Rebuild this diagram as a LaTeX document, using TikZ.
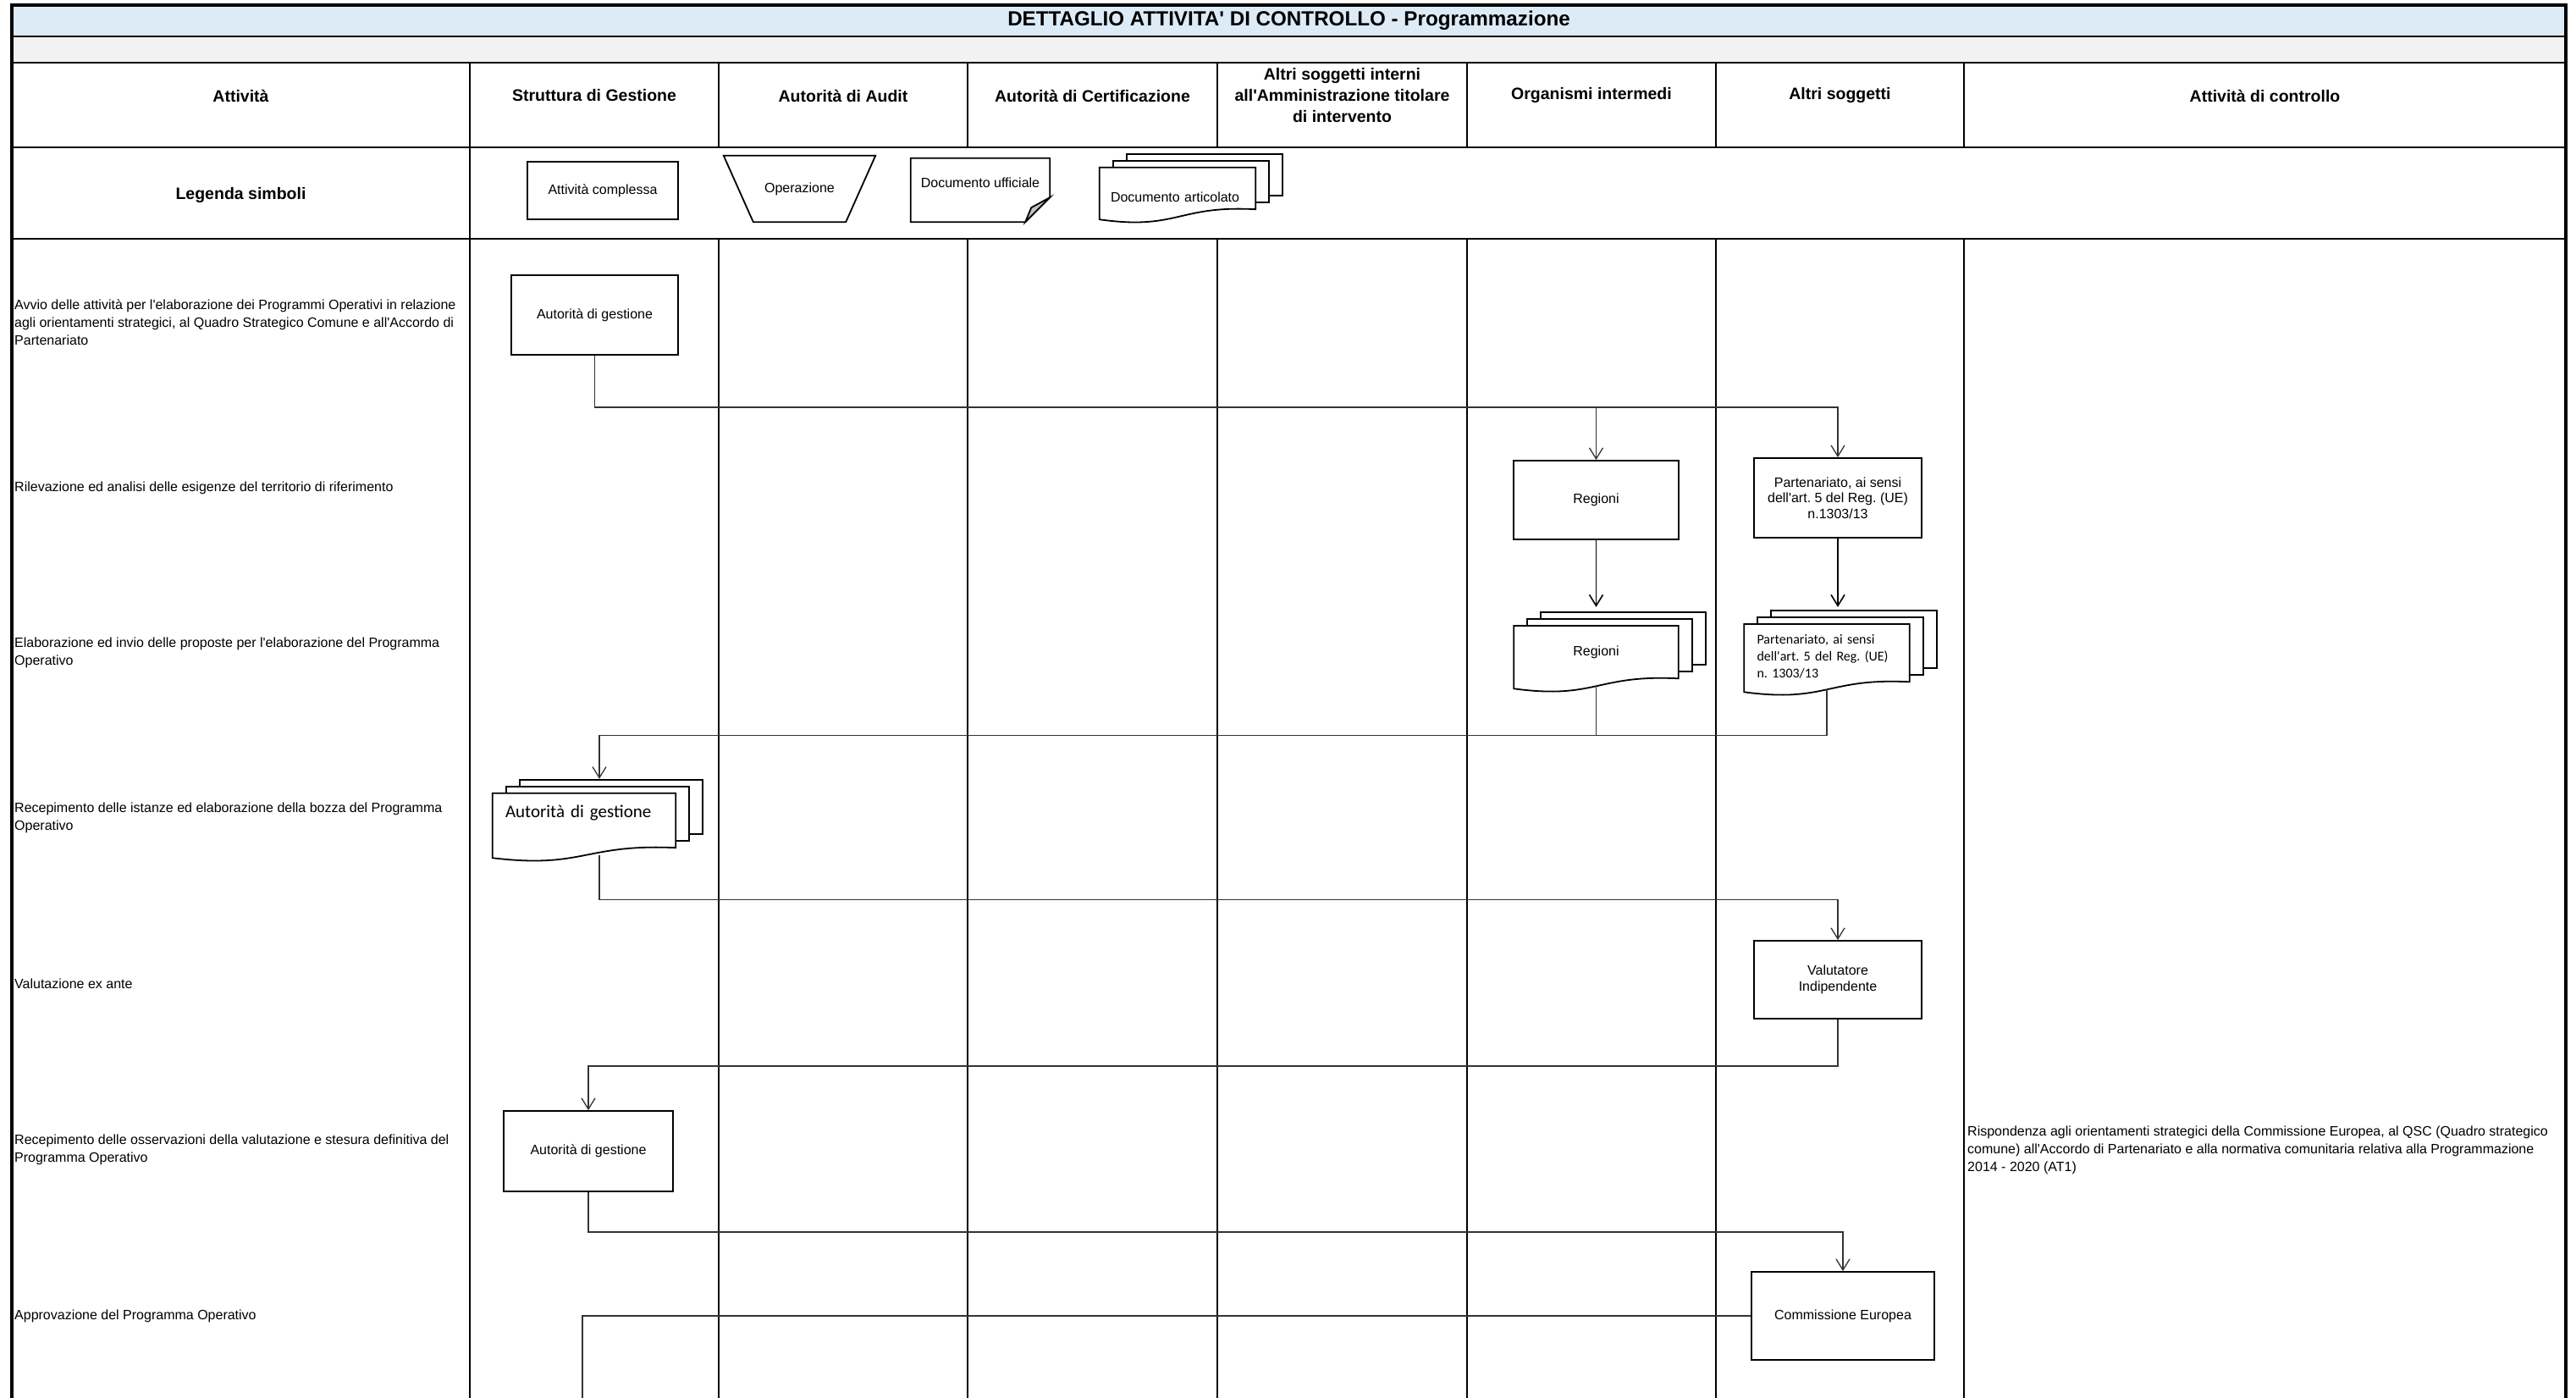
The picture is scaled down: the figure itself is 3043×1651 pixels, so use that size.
\documentclass[tikz,border=0pt]{standalone}
\usepackage{fontspec}
\setmainfont{Liberation Sans}[Ligatures=TeXOff]
\newfontfamily\calibri{Carlito}[Ligatures=TeXOff]
\usepackage{tikz}
\usetikzlibrary{positioning,calc,arrows.meta,backgrounds}
\frenchspacing

\definecolor{titleblue}{HTML}{DDEBF7}
\definecolor{bandgray}{HTML}{F2F2F2}
\definecolor{foldgray}{HTML}{C4C4C4}

\tikzset{
  outerline/.style={line width=3.5pt},
  rowline/.style={line width=2.5pt},
  laneline/.style={line width=2pt},
  shapeline/.style={line width=1.8pt},
  titletext/.style={font=\bfseries\fontsize{24.2}{28}\selectfont},
  lane/.style={font=\bfseries\fontsize{19.5}{25}\selectfont, align=center},
  attivita/.style={anchor=west, inner sep=0pt, align=left, font=\fontsize{16}{21}\selectfont},
  box/.style={draw, shapeline, minimum width=198pt, minimum height=94pt, inner sep=2pt, align=center, font=\fontsize{16}{18.5}\selectfont},
  docnode/.style={inner sep=0pt, align=center, font=\fontsize{16}{20}\selectfont},
  flow/.style={draw=black!80, line width=1.3pt, -{Straight Barb[length=13pt,width=16pt]}},
  link/.style={draw=black!80, line width=1.3pt},
}

% stacked documents behind a named node, wavy lower edge
\newcommand{\stackdoc}[1]{%
  \begin{scope}[on background layer]
    \draw[shapeline, fill=white] ([shift={(32,-16)}]#1.north west) rectangle ([shift={(32,-25)}]#1.south east);
    \draw[shapeline, fill=white] ([shift={(16,-8)}]#1.north west) rectangle ([shift={(16,-17)}]#1.south east);
    \draw[shapeline, fill=white] (#1.north west) -- (#1.north east) -- ([shift={(0,-9)}]#1.south east)
      .. controls ([shift={(0,-14)}]#1.south) and ([shift={(0,16)}]#1.south) .. ([shift={(0,3)}]#1.south west) -- cycle;
  \end{scope}}

\begin{document}
\begin{tikzpicture}[x=1pt, y=-1pt]
\useasboundingbox (0,0) rectangle (3043,1651);

\fill[titleblue] (14,6) rectangle (3031,43);
\fill[bandgray] (14,43) rectangle (3031,74);
\draw[rowline] (14,43) -- (3031,43) (14,74) -- (3031,74) (14,174) -- (3031,174) (14,282) -- (3031,282);
\draw[laneline] (555,74) -- (555,1651)
  (849,74) -- (849,174) (1143,74) -- (1143,174) (1438,74) -- (1438,174)
  (1733,74) -- (1733,174) (2027,74) -- (2027,174) (2320,74) -- (2320,174)
  (849,282) -- (849,1651) (1143,282) -- (1143,1651) (1438,282) -- (1438,1651)
  (1733,282) -- (1733,1651) (2027,282) -- (2027,1651) (2320,282) -- (2320,1651);
\draw[outerline] (14,1651) -- (14,6) -- (3031,6) -- (3031,1651);

\node [titletext] (title) at (1522.5,24.5) {DETTAGLIO ATTIVITA' DI CONTROLLO - Programmazione};

\node [lane] (hatt) at (284.5,113) {Attività};
\node [lane] (hsg) at (702,113) {Struttura di Gestione};
\node [lane] (haa) at (996,113) {Autorità di Audit};
\node [lane] (hac) at (1290.5,113) {Autorità di Certificazione};
\node [lane] (has) at (1585.5,113) {Altri soggetti interni\\all'Amministrazione titolare\\di intervento};
\node [lane] (hoi) at (1880,113) {Organismi intermedi};
\node [lane] (hao) at (2173.5,113) {Altri soggetti};
\node [lane] (hcon) at (2675.5,113) {Attività di controllo};

% legenda
\node [lane] (legenda) at (284.5,230) {Legenda simboli};
\node [box, minimum width=178pt, minimum height=68pt] (leg1) at (712,225) {Attività complessa};
\node [docnode, minimum width=179pt, minimum height=78pt] (leg2) at (944.5,223) {Operazione};
\draw[shapeline] (leg2.north west) -- (leg2.north east) -- ([shift={(-35,0)}]leg2.south east)
  -- ([shift={(35,0)}]leg2.south west) -- cycle;
\node [docnode, minimum width=164pt, minimum height=75pt, text height=12pt, text depth=18pt] (leg3) at (1158,224.5) {Documento ufficiale};
\draw[shapeline] (leg3.north west) -- (leg3.north east) -- ([shift={(0,-29)}]leg3.south east)
  -- ([shift={(-29,0)}]leg3.south east) -- (leg3.south west) -- cycle;
\filldraw[shapeline, fill=foldgray] ([shift={(0,-29)}]leg3.south east) -- ([shift={(-22,-17)}]leg3.south east)
  -- ([shift={(-29,0)}]leg3.south east) -- cycle;
\node [docnode, align=left, text width=158pt, minimum width=184pt, minimum height=58pt, text height=24pt, text depth=2pt] (leg4) at (1391,227) {Documento articolato};
\stackdoc{leg4}

% attivita
\node [attivita] (a1) at (17,381) {Avvio delle attività per l'elaborazione dei Programmi Operativi in relazione\\agli orientamenti strategici, al Quadro Strategico Comune e all'Accordo di\\Partenariato};
\node [attivita] (a2) at (17,576) {Rilevazione ed analisi delle esigenze del territorio di riferimento};
\node [attivita] (a3) at (17,771) {Elaborazione ed invio delle proposte per l'elaborazione del Programma\\Operativo};
\node [attivita] (a4) at (17,966) {Recepimento delle istanze ed elaborazione della bozza del Programma\\Operativo};
\node [attivita] (a5) at (17,1162) {Valutazione ex ante};
\node [attivita] (a6) at (17,1358) {Recepimento delle osservazioni della valutazione e stesura definitiva del\\Programma Operativo};
\node [attivita] (a7) at (17,1554) {Approvazione del Programma Operativo};
\node [attivita] (ctrl) at (2324,1358) {Rispondenza agli orientamenti strategici della Commissione Europea, al QSC (Quadro strategico\\comune) all'Accordo di Partenariato e alla normativa comunitaria relativa alla Programmazione\\2014 - 2020 (AT1)};

% flusso
\node [box, minimum width=197pt] (adg1) at (702.5,372) {Autorità di gestione};
\node [box, minimum width=195pt, minimum height=93pt] (reg1) at (1885.5,590.5) {Regioni};
\node [box] (part1) at (2171,588) {Partenariato, ai sensi\\dell'art. 5 del Reg. (UE)\\n.1303/13};
\node [docnode, minimum width=194pt, minimum height=71pt, text height=12pt, text depth=12pt, below=101pt of reg1] (reg2) {Regioni};
\node [docnode, font=\calibri\fontsize{16}{20}\selectfont, align=left, text width=165pt, minimum width=195pt,
  minimum height=77pt, below=101pt of part1, xshift=-13pt] (part2) {Partenariato, ai sensi\\dell'art. 5 del Reg. (UE)\\n. 1303/13};
\node [docnode, font=\calibri\fontsize{21}{25}\selectfont, align=left, text width=186pt, minimum width=216pt,
  minimum height=73pt, text height=16pt, text depth=33pt] (adg3) at (690,973.5) {Autorità di gestione};
\stackdoc{reg2}
\stackdoc{part2}
\stackdoc{adg3}
\node [box, minimum height=92pt] (valut) at (2171,1157) {Valutatore\\Indipendente};
\node [box, minimum width=200pt, minimum height=95pt] (adg2) at (695,1359.5) {Autorità di gestione};
\node [box, minimum width=216pt, minimum height=104pt] (ce) at (2177,1554) {Commissione Europea};
\coordinate (ceout) at (688,1651);

\draw[flow] (adg1.south) -- ++(0,61) -| (part1.north);
\draw[flow] (adg1.south) ++(0,61) -| (reg1.north);
\draw[flow, draw=black, line width=1.6pt] (reg1.south) -- ($(reg1.south |- reg2.north)+(0,-22)$);
\draw[flow, draw=black, line width=1.6pt] (part1.south) -- ($(part1.south |- part2.north)+(0,-20)$);
\draw[link] (reg2.south) -- ($(reg2.south |- adg3.north)+(0,-68)$);
\draw[flow] (part2.south) |- ($(adg3.north)+(18,-68)$) -- ($(adg3.north)+(18,-17)$);
\draw[flow] ($(adg3.south)+(18,0)$) -- ++(0,52) -| (valut.north);
\draw[flow] (valut.south) -- ++(0,55) -| (adg2.north);
\draw[flow] (adg2.south) -- ++(0,47) -| (ce.north);
\draw[link] (ce.west) -| (ceout);
\end{tikzpicture}
\end{document}
